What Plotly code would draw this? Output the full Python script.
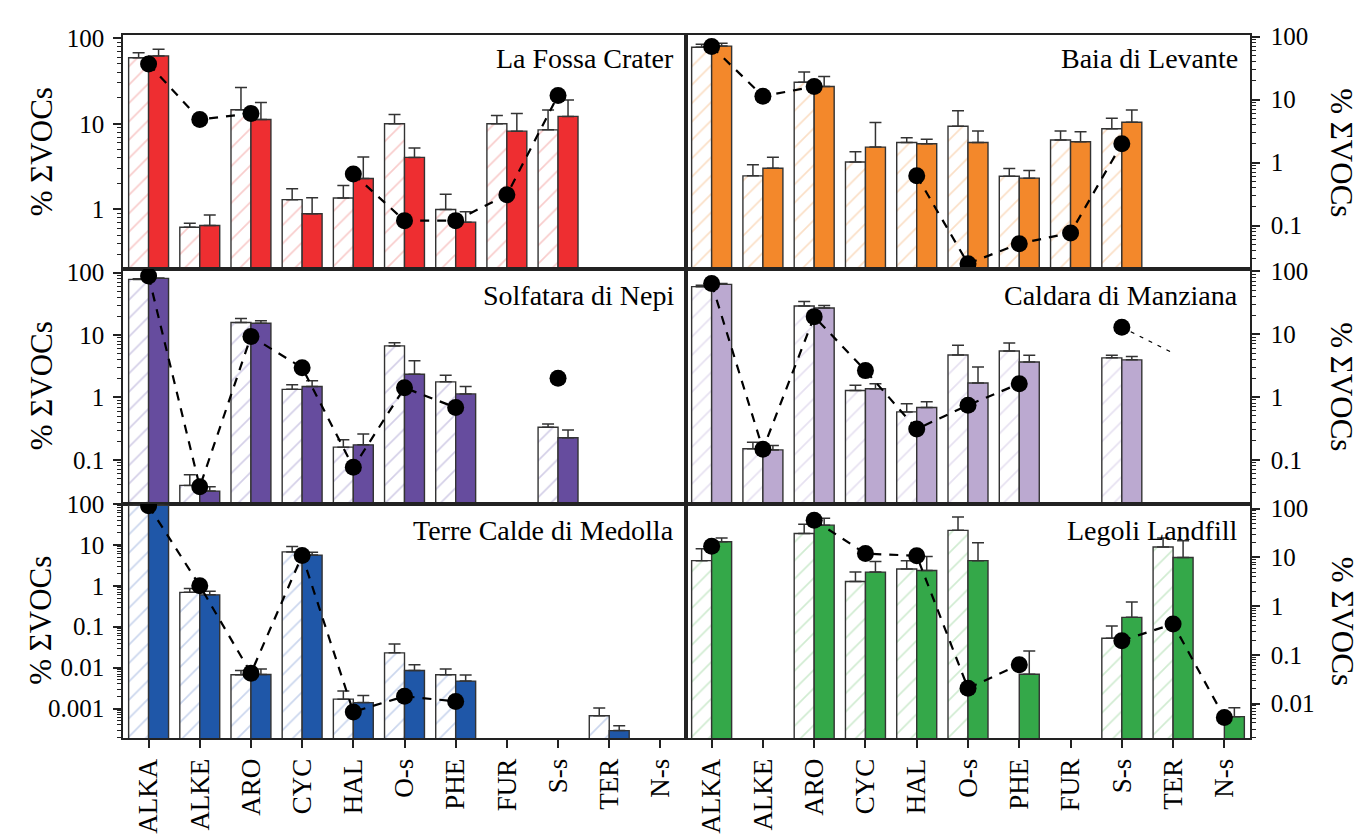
import plotly.graph_objects as go
from plotly.subplots import make_subplots

categories = ["ALKA", "ALKE", "ARO", "CYC", "HAL", "O-s", "PHE", "FUR", "S-s", "TER", "N-s"]

# ---- La Fossa Crater ----
fossa_bar1 = [59, 0.62, 14.6, 1.3, 1.36, 10, 1.0, 10, 8.5, None, None]
fossa_bar1_sd = [8.5, 0.07, 12, 0.44, 0.54, 2.8, 0.5, 2.5, 6.0, None, None]
fossa_bar2 = [62, 0.65, 11.2, 0.89, 2.3, 4.05, 0.71, 8.2, 12.2, None, None]
fossa_bar2_sd = [12, 0.21, 6.5, 0.48, 1.8, 1.15, 0.23, 5.0, 6.8, None, None]
fossa_points = [50, 11.2, 13.2, None, 2.6, 0.74, 0.74, 1.48, 21.4, None, None]

# ---- Baia di Levante ----
levante_bar1 = [68, 0.62, 19, 1.03, 2.1, 3.8, 0.61, 2.3, 3.46, None, None]
levante_bar1_sd = [8, 0.31, 8.5, 0.47, 0.4, 2.9, 0.2, 0.9, 1.64, None, None]
levante_bar2 = [71, 0.82, 16.2, 1.77, 2.0, 2.1, 0.57, 2.16, 4.4, None, None]
levante_bar2_sd = [8, 0.4, 7.1, 2.6, 0.35, 1.1, 0.18, 0.94, 2.5, None, None]
levante_points = [70, 11.4, 16.2, None, 0.62, 0.025, 0.052, 0.077, 2.0, None, None]

# ---- Solfatara di Nepi ----
nepi_bar1 = [78, 0.039, 15.9, 1.35, 0.16, 6.7, 1.78, None, 0.334, None, None]
nepi_bar1_sd = [2, 0.019, 2.5, 0.25, 0.05, 0.8, 0.48, None, 0.042, None, None]
nepi_bar2 = [81, 0.0316, 15.5, 1.5, 0.174, 2.36, 1.14, None, 0.226, None, None]
nepi_bar2_sd = [1, 0.0054, 1.5, 0.35, 0.086, 1.5, 0.36, None, 0.074, None, None]
nepi_points = [88, 0.037, 9.5, 3.0, 0.076, 1.43, 0.69, None, 2.03, None, None]

# ---- Caldara di Manziana ----
manziana_bar1 = [57, 0.15, 28, 1.27, 0.58, 4.66, 5.4, None, 4.2, None, None]
manziana_bar1_sd = [3, 0.04, 5, 0.27, 0.2, 2.0, 1.8, None, 0.4, None, None]
manziana_bar2 = [62, 0.144, 26, 1.35, 0.68, 1.67, 3.6, None, 3.9, None, None]
manziana_bar2_sd = [2, 0.026, 2.5, 0.28, 0.16, 1.33, 1.0, None, 0.5, None, None]
manziana_points = [64, 0.147, 19, 2.63, 0.31, 0.74, 1.63, None, 12.9, None, None]
manziana_tail = [None, None, None, None, None, None, None, None, 12.9, 5.0, None]

# ---- Terre Calde di Medolla ----
medolla_bar1 = [92, 0.69, 0.0067, 6.7, 0.0017, 0.023, 0.0067, None, None, 0.00067, None]
medolla_bar1_sd = [0, 0.17, 0.0018, 2.4, 0.001, 0.015, 0.0026, None, None, 0.00037, None]
medolla_bar2 = [92, 0.60, 0.0068, 5.6, 0.0014, 0.0085, 0.0047, None, None, 0.00029, None]
medolla_bar2_sd = [0, 0.13, 0.0025, 1.0, 0.0007, 0.0033, 0.0019, None, None, 0.00009, None]
medolla_points = [90, 1.0, 0.0073, 5.5, 0.00083, 0.002, 0.0015, None, None, None, None]

# ---- Legoli Landfill ----
legoli_bar1 = [8.6, None, 31, 3.2, 5.8, 36, None, None, 0.22, 16.4, None]
legoli_bar1_sd = [6.4, None, 17, 1.8, 2.8, 32, None, None, 0.17, 8.6, None]
legoli_bar2 = [21, None, 46, 5.0, 5.4, 8.6, 0.040, None, 0.59, 10, 0.0054]
legoli_bar2_sd = [4, None, 18, 3.3, 5.1, 11.4, 0.08, None, 0.63, 12, 0.0028]
legoli_points = [17, None, 58, 12, 10.8, 0.0207, 0.063, None, 0.196, 0.43, 0.0052]

FONT = "Liberation Serif"
INK = "#222222"

panels = [
    # title, row, col, bar1, sd1, bar2, sd2, points, fill, hatch, y-range (log10), ticks
    ("La Fossa Crater", 1, 1, fossa_bar1, fossa_bar1_sd, fossa_bar2, fossa_bar2_sd, fossa_points,
     "#EE2E31", "#F29A98", [-0.696, 2.031], [1, 10, 100]),
    ("Baia di Levante", 1, 2, levante_bar1, levante_bar1_sd, levante_bar2, levante_bar2_sd, levante_points,
     "#F3882B", "#F6BF8E", [-1.687, 2.02], [0.1, 1, 10, 100]),
    ("Solfatara di Nepi", 2, 1, nepi_bar1, nepi_bar1_sd, nepi_bar2, nepi_bar2_sd, nepi_points,
     "#664C9E", "#A89FD0", [-1.70, 2.058], [0.1, 1, 10, 100]),
    ("Caldara di Manziana", 2, 2, manziana_bar1, manziana_bar1_sd, manziana_bar2, manziana_bar2_sd, manziana_points,
     "#BBA9D0", "#CEC3E2", [-1.695, 2.036], [0.1, 1, 10, 100]),
    ("Terre Calde di Medolla", 3, 1, medolla_bar1, medolla_bar1_sd, medolla_bar2, medolla_bar2_sd, medolla_points,
     "#1F57A8", "#95ADDB", [-3.72, 2.007], [0.001, 0.01, 0.1, 1, 10, 100]),
    ("Legoli Landfill", 3, 2, legoli_bar1, legoli_bar1_sd, legoli_bar2, legoli_bar2_sd, legoli_points,
     "#34A849", "#A2D8A3", [-2.708, 2.106], [0.01, 0.1, 1, 10, 100]),
]

fig = make_subplots(rows=3, cols=2, horizontal_spacing=0, vertical_spacing=0)
xpos = list(range(len(categories)))


def tick_text(v):
    return ("%g" % v)


def err_bar(sd):
    return dict(type="data", array=sd, arrayminus=[0] * len(sd), symmetric=False,
                color="#333333", thickness=1.5, width=6)


for (title, r, c, b1, s1, b2, s2, pts, fill, hatch, yr, ticks) in panels:
    fig.add_trace(go.Bar(
        x=xpos, y=b1, error_y=err_bar(s1),
        marker=dict(color="white",
                    pattern=dict(shape="/", fgcolor=hatch, bgcolor="white", size=13, solidity=0.13),
                    line=dict(color="#333333", width=1.4)),
        showlegend=False), row=r, col=c)
    fig.add_trace(go.Bar(
        x=xpos, y=b2, error_y=err_bar(s2),
        marker=dict(color=fill, line=dict(color="#333333", width=1.4)),
        showlegend=False), row=r, col=c)
    fig.add_trace(go.Scatter(
        x=xpos, y=pts, mode="lines+markers",
        line=dict(color="black", width=2.2, dash="9px,8px"),
        marker=dict(color="black", size=17),
        connectgaps=False, showlegend=False), row=r, col=c)

    side = "left" if c == 1 else "right"
    fig.update_yaxes(
        type="log", range=yr, tickmode="array", tickvals=ticks,
        ticktext=[tick_text(v) for v in ticks],
        side=side, ticks="outside", ticklen=8, tickwidth=1.5, tickcolor=INK,
        ticklabelstandoff=4 if c == 1 else 6,
        minor=dict(ticks="outside", ticklen=4, tickwidth=1, tickcolor=INK, dtick="D1", showgrid=False),
        showline=True, mirror=True, linecolor=INK, linewidth=1.5,
        showgrid=False, zeroline=False,
        tickfont=dict(family=FONT, size=25, color="black"),
        row=r, col=c)
    fig.update_xaxes(
        range=[-0.5, len(categories) - 0.5], tickmode="array", tickvals=xpos, ticktext=categories,
        showticklabels=(r == 3), ticks="outside" if r == 3 else "", ticklen=8, tickwidth=1.5,
        tickcolor=INK, tickangle=-90,
        showline=True, mirror=True, linecolor=INK, linewidth=1.5,
        showgrid=False, zeroline=False,
        tickfont=dict(family=FONT, size=27, color="black"),
        row=r, col=c)

# dotted continuation from S-s towards TER for Caldara di Manziana
fig.add_trace(go.Scatter(
    x=xpos, y=manziana_tail, mode="lines",
    line=dict(color="black", width=1.3, dash="4px,6px"),
    connectgaps=False, showlegend=False), row=2, col=2)

# explicit panel placement (pixels -> paper fractions)
W, H = 1359, 834
xdom = {1: [123 / W, 686 / W], 2: [686 / W, 1250 / W]}
ydom = {1: [1 - 262 / H, 1 - 23 / H], 2: [1 - 502 / H, 1 - 262 / H], 3: [1 - 742 / H, 1 - 502 / H]}
idx = 1
for r in (1, 2, 3):
    for c in (1, 2):
        sx = "" if idx == 1 else str(idx)
        fig.layout["xaxis" + sx].domain = xdom[c]
        fig.layout["yaxis" + sx].domain = ydom[r]
        idx += 1

annotations = []
title_y = {1: 0.90, 2: 0.887, 3: 0.885}
idx = 1
for (title, r, c, *_rest) in panels:
    sx = "" if idx == 1 else str(idx)
    annotations.append(dict(
        text=title, xref="x%s domain" % sx, yref="y%s domain" % sx,
        x=0.982, y=title_y[r], xanchor="right", yanchor="middle", showarrow=False,
        font=dict(family=FONT, size=28, color="black")))
    idx += 1

for r in (1, 2, 3):
    ymid = (ydom[r][0] + ydom[r][1]) / 2
    annotations.append(dict(
        text="% ΣVOCs", xref="paper", yref="paper", x=41 / W, y=ymid,
        xanchor="center", yanchor="middle", textangle=-90, showarrow=False,
        font=dict(family=FONT, size=31, color="black")))
    annotations.append(dict(
        text="% ΣVOCs", xref="paper", yref="paper", x=1342 / W, y=ymid,
        xanchor="center", yanchor="middle", textangle=90, showarrow=False,
        font=dict(family=FONT, size=31, color="black")))

fig.update_layout(
    width=W, height=H, margin=dict(l=0, r=0, t=0, b=0),
    paper_bgcolor="white", plot_bgcolor="white",
    barmode="group", bargap=0.22, bargroupgap=0,
    annotations=annotations, showlegend=False,
    font=dict(family=FONT, color="black"),
)

fig.write_html("out.html")
